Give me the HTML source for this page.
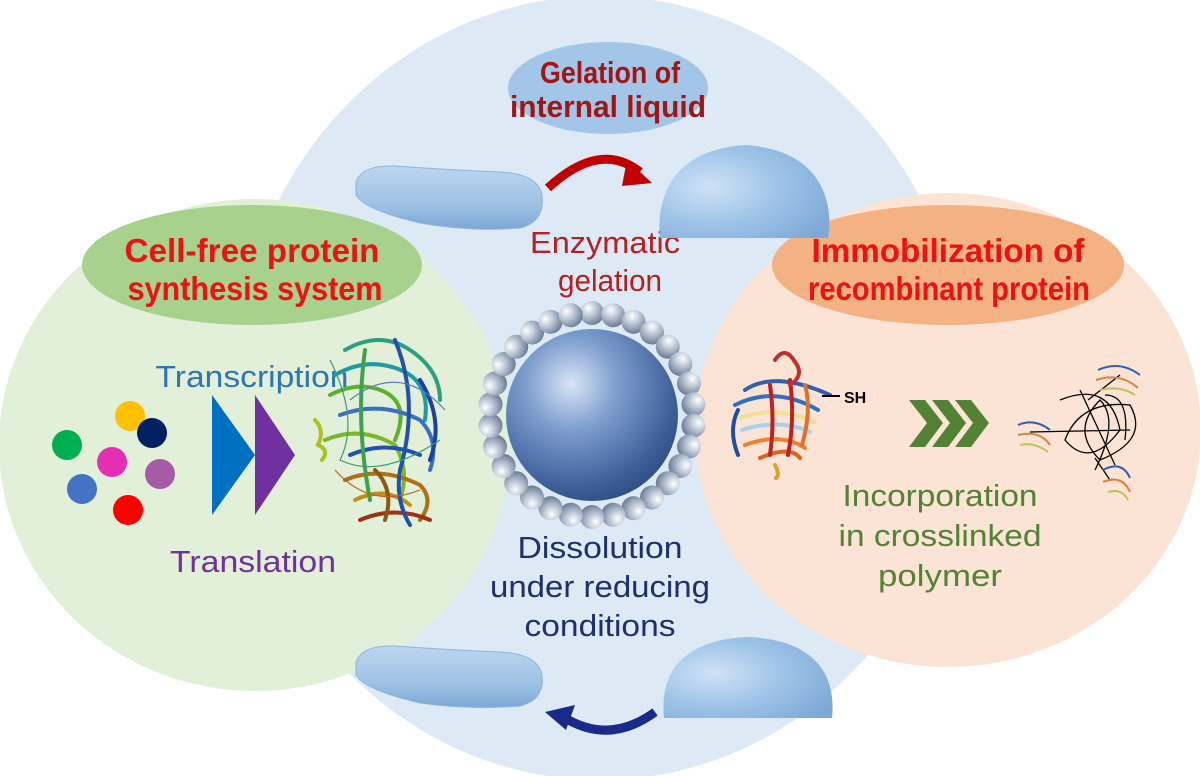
<!DOCTYPE html>
<html><head><meta charset="utf-8"><style>
html,body{margin:0;padding:0;background:#fff}
svg{display:block}
text{font-family:"Liberation Sans",sans-serif}
</style></head><body>
<svg width="1200" height="776" viewBox="0 0 1200 776" xmlns="http://www.w3.org/2000/svg">
<defs>
<radialGradient id="big" cx="0.38" cy="0.32" r="0.75">
<stop offset="0" stop-color="#d8e6f6"/><stop offset="0.35" stop-color="#7f9fcf"/><stop offset="0.8" stop-color="#3e5f9a"/><stop offset="1" stop-color="#2c4a80"/></radialGradient>
<radialGradient id="sm" cx="0.35" cy="0.3" r="0.75">
<stop offset="0" stop-color="#ffffff"/><stop offset="0.5" stop-color="#b3bfd0"/><stop offset="1" stop-color="#6b7a92"/></radialGradient>
<linearGradient id="liq" x1="0" y1="0" x2="0" y2="1">
<stop offset="0" stop-color="#bcd6ef"/><stop offset="0.6" stop-color="#9fc2e6"/><stop offset="1" stop-color="#7ea7d4"/></linearGradient>
<radialGradient id="dome" cx="0.3" cy="0.45" r="0.8">
<stop offset="0" stop-color="#cfe2f6"/><stop offset="0.5" stop-color="#9fc4e8"/><stop offset="1" stop-color="#7ea8d6"/></radialGradient>
</defs>
<rect width="1200" height="776" fill="#fff"/>
<ellipse cx="600" cy="388" rx="366" ry="392" fill="#dde9f5"/>
<ellipse cx="255" cy="445" rx="256" ry="246" fill="#e2efd9"/>
<ellipse cx="948" cy="430" rx="253" ry="237" fill="#fbe4d5"/>
<ellipse cx="608" cy="88" rx="100" ry="46" fill="#a3c5e7"/>
<ellipse cx="252" cy="265" rx="170" ry="60" fill="#a9d18e"/>
<ellipse cx="948" cy="265" rx="176" ry="60" fill="#f4b183"/>

<g font-weight="bold" font-size="31" text-anchor="middle">
<text x="610" y="83" fill="#a01515" textLength="140" lengthAdjust="spacingAndGlyphs">Gelation of</text>
<text x="608" y="117" fill="#a01515" textLength="196" lengthAdjust="spacingAndGlyphs">internal liquid</text>
<text x="252" y="262" fill="#ee1111" font-size="33" textLength="255" lengthAdjust="spacingAndGlyphs">Cell-free protein</text>
<text x="255" y="300" fill="#ee1111" font-size="33" textLength="255" lengthAdjust="spacingAndGlyphs">synthesis system</text>
<text x="948" y="262" fill="#ee1111" font-size="33" textLength="273" lengthAdjust="spacingAndGlyphs">Immobilization of</text>
<text x="949" y="300" fill="#ee1111" font-size="33" textLength="282" lengthAdjust="spacingAndGlyphs">recombinant protein</text>
</g>
<g font-size="31" text-anchor="middle">
<text x="605" y="253" fill="#b52020" textLength="150" lengthAdjust="spacingAndGlyphs">Enzymatic</text>
<text x="610" y="291" fill="#b52020" textLength="104" lengthAdjust="spacingAndGlyphs">gelation</text>
<text x="252" y="387" fill="#2e75b6" textLength="193" lengthAdjust="spacingAndGlyphs">Transcription</text>
<text x="253" y="572" fill="#7030a0" textLength="166" lengthAdjust="spacingAndGlyphs">Translation</text>
<text x="600" y="558" fill="#1f2f6e" textLength="165" lengthAdjust="spacingAndGlyphs">Dissolution</text>
<text x="600" y="597" fill="#1f2f6e" textLength="220" lengthAdjust="spacingAndGlyphs">under reducing</text>
<text x="600" y="636" fill="#1f2f6e" textLength="151" lengthAdjust="spacingAndGlyphs">conditions</text>
<text x="940" y="506" fill="#548235" textLength="195" lengthAdjust="spacingAndGlyphs">Incorporation</text>
<text x="940" y="546" fill="#548235" textLength="203" lengthAdjust="spacingAndGlyphs">in crosslinked</text>
<text x="940" y="586" fill="#548235" textLength="124" lengthAdjust="spacingAndGlyphs">polymer</text>
</g>

<!-- liquids -->
<path d="M356,182 Q362,165 395,166 Q450,170 500,172 Q538,174 542,195 Q545,222 520,228 Q470,232 420,223 Q365,210 356,195 Z" fill="url(#liq)" stroke="#8fb3d9"/>
<path d="M660,238 C656,200 670,150 745,145 C820,150 834,200 828,238 Z" fill="url(#dome)"/>
<path d="M356,662 Q362,645 395,646 Q450,650 500,652 Q538,654 542,675 Q545,700 520,706 Q470,710 420,703 Q365,690 356,675 Z" fill="url(#liq)" stroke="#8fb3d9"/>
<path d="M664,718 C660,680 675,640 748,637 C820,640 836,680 832,718 Z" fill="url(#dome)"/>
<!-- arrows -->
<path d="M548,188 Q600,140 640,172" fill="none" stroke="#c00000" stroke-width="9"/>
<polygon points="627,160 652,183 622,186" fill="#c00000"/>
<path d="M655,712 Q610,745 565,718" fill="none" stroke="#1a2a8a" stroke-width="9"/>
<polygon points="545,712 575,705 566,730" fill="#1a2a8a"/>

<!-- sphere ring -->
<g fill="url(#sm)">
<g id="r"><circle cx="592" cy="313" r="12"/></g>
<use href="#r" transform="rotate(12 592 415)"/><use href="#r" transform="rotate(24 592 415)"/><use href="#r" transform="rotate(36 592 415)"/><use href="#r" transform="rotate(48 592 415)"/><use href="#r" transform="rotate(60 592 415)"/><use href="#r" transform="rotate(72 592 415)"/><use href="#r" transform="rotate(84 592 415)"/><use href="#r" transform="rotate(96 592 415)"/><use href="#r" transform="rotate(108 592 415)"/><use href="#r" transform="rotate(120 592 415)"/><use href="#r" transform="rotate(132 592 415)"/><use href="#r" transform="rotate(144 592 415)"/><use href="#r" transform="rotate(156 592 415)"/><use href="#r" transform="rotate(168 592 415)"/><use href="#r" transform="rotate(180 592 415)"/><use href="#r" transform="rotate(192 592 415)"/><use href="#r" transform="rotate(204 592 415)"/><use href="#r" transform="rotate(216 592 415)"/><use href="#r" transform="rotate(228 592 415)"/><use href="#r" transform="rotate(240 592 415)"/><use href="#r" transform="rotate(252 592 415)"/><use href="#r" transform="rotate(264 592 415)"/><use href="#r" transform="rotate(276 592 415)"/><use href="#r" transform="rotate(288 592 415)"/><use href="#r" transform="rotate(300 592 415)"/><use href="#r" transform="rotate(312 592 415)"/><use href="#r" transform="rotate(324 592 415)"/><use href="#r" transform="rotate(336 592 415)"/><use href="#r" transform="rotate(348 592 415)"/>
</g>
<circle cx="592" cy="415" r="86" fill="url(#big)"/>

<!-- dots -->
<circle cx="67" cy="445" r="15" fill="#00b050"/>
<circle cx="130" cy="416" r="15" fill="#ffc000"/>
<circle cx="152" cy="433" r="15" fill="#002060"/>
<circle cx="112" cy="462" r="15" fill="#e52fb3"/>
<circle cx="160" cy="474" r="15" fill="#a55ba5"/>
<circle cx="82" cy="489" r="15" fill="#4472c4"/>
<circle cx="128" cy="510" r="15" fill="#ff0000"/>
<!-- chevrons -->
<polygon points="212,395 255,455 212,515" fill="#0070c0"/>
<polygon points="255,395 295,455 255,515" fill="#7030a0"/>
<!-- protein left -->
<g fill="none" stroke-linecap="round" stroke-width="4">
<path d="M345,350 Q380,330 410,350 Q440,370 440,400" stroke="#2aa080"/>
<path d="M335,375 Q370,355 405,372 Q430,385 425,420" stroke="#1f9aa0"/>
<path d="M330,395 Q360,380 385,392 Q410,405 395,440" stroke="#5ab030"/>
<path d="M340,415 Q380,400 420,420 Q440,440 430,470" stroke="#3a70c0"/>
<path d="M325,440 Q360,425 395,445 Q410,470 400,500" stroke="#7ab828"/>
<path d="M350,455 Q385,440 420,455" stroke="#2050b0"/>
<path d="M345,480 Q380,465 420,485 Q435,500 420,520" stroke="#b07010"/>
<path d="M355,500 Q385,485 410,505" stroke="#c09010"/>
<path d="M360,520 Q395,505 430,520" stroke="#a03010"/>
<path d="M395,340 Q420,400 400,470 Q395,500 410,525" stroke="#2050b0"/>
<path d="M365,350 Q355,420 370,500" stroke="#40a050"/>
<path d="M420,380 Q445,420 430,460" stroke="#1f3fa0"/>
<path d="M315,420 Q325,430 318,445 Q330,450 322,460" stroke="#b0c020"/>
<path d="M375,470 Q395,490 385,520" stroke="#8a5a10"/>
</g>
<g fill="none" stroke-width="1.2">
<path d="M330,360 Q360,420 340,460 Q380,480 440,440" stroke="#3a9a70"/>
<path d="M350,400 Q400,360 445,410" stroke="#5080c0"/>
<path d="M335,470 Q370,510 420,490" stroke="#c06020"/>
</g>
<!-- protein right -->
<g fill="none" stroke-width="4" stroke-linecap="round">
<path d="M745,390 Q775,370 830,395" stroke="#3060b0"/>
<path d="M735,405 Q775,385 818,410" stroke="#3070c0"/>
<path d="M740,418 Q775,405 815,422" stroke="#f0e090"/>
<path d="M742,430 Q780,418 810,432" stroke="#a8d0e8"/>
<path d="M745,445 Q780,432 805,448" stroke="#f08030"/>
<path d="M760,458 Q790,445 800,458" stroke="#e06020"/>
<path d="M770,385 Q775,420 770,455" stroke="#c02020"/>
<path d="M790,380 Q795,420 788,455" stroke="#c02020"/>
<path d="M805,385 Q812,410 802,445" stroke="#e07030"/>
<path d="M738,410 Q728,430 738,455" stroke="#1f4fa0"/>
<path d="M775,360 Q785,345 795,362 Q805,375 790,385" stroke="#c03030"/>
<path d="M775,465 Q780,475 776,478" stroke="#e0a030"/>
</g>
<line x1="822" y1="396" x2="840" y2="396" stroke="#000" stroke-width="2"/>
<text x="844" y="403" font-size="16" font-weight="bold" fill="#000">SH</text>
<g fill="#548235">
<polygon points="909,400 925,400 943,423 925,447 909,447 927,423"/>
<polygon points="932,400 948,400 966,423 948,447 932,447 950,423"/>
<polygon points="955,400 971,400 989,423 971,447 955,447 973,423"/>
</g>
<g fill="none" stroke="#000" stroke-width="1.3">
<path d="M1060,400 Q1110,380 1120,430 Q1090,470 1065,440 Q1080,400 1130,405 Q1150,440 1100,460 Q1070,430 1100,400 Q1120,420 1095,470 M1030,432 L1130,430 M1080,390 L1115,465 M1105,395 Q1130,395 1125,440 M1088,400 L1120,375 M1095,458 L1110,480"/>
</g>
<g stroke-width="2" fill="none">
<path d="M1098,370 Q1120,360 1140,375" stroke="#3060b0"/><path d="M1096,380 Q1120,372 1138,388" stroke="#e08040"/><path d="M1100,390 Q1120,385 1135,395" stroke="#c0c060"/>
<path d="M1018,425 Q1035,418 1050,430" stroke="#3060b0"/><path d="M1018,435 Q1040,430 1050,445" stroke="#e08040"/><path d="M1020,445 Q1035,442 1048,452" stroke="#c0c060"/>
<path d="M1103,470 Q1122,460 1130,478" stroke="#3060b0"/><path d="M1103,482 Q1122,474 1130,492" stroke="#e08040"/><path d="M1108,492 Q1122,488 1128,500" stroke="#c0c060"/>
</g>
</svg>
</body></html>
